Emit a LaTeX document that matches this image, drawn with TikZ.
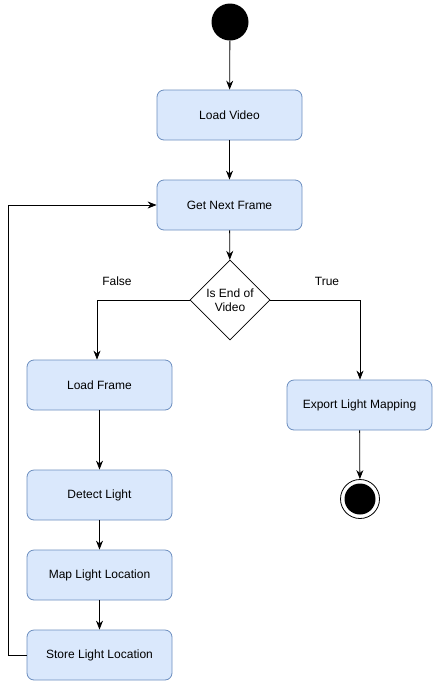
\documentclass[tikz,border=0pt]{standalone}
\usepackage{fontspec}
\setmainfont{Liberation Sans}
\usetikzlibrary{arrows.meta,shapes.geometric}
\definecolor{boxfill}{HTML}{DAE8FC}
\definecolor{boxline}{HTML}{6C8EBF}
\begin{document}
\begin{tikzpicture}[x=1pt,y=-1pt,
  actbox/.style={draw=boxline,fill=boxfill,rounded corners=7pt,minimum width=145pt,minimum height=50pt,inner sep=0pt,font=\fontsize{12pt}{14pt}\selectfont,line width=0.8pt},
  arr/.style={-{Stealth[length=9pt,width=7pt]},line width=0.8pt},
  lbl/.style={font=\fontsize{12pt}{14pt}\selectfont}]
\useasboundingbox (0,0) rectangle (433,681);
\node[circle,fill=black,minimum size=37pt,inner sep=0pt] (start) at (230,22) {};
\node[actbox] (load) at (229.5,115) {Load Video};
\node[actbox] (next) at (229.5,205) {Get Next Frame};
\node[diamond,draw=black,fill=white,minimum width=80pt,minimum height=80pt,inner sep=0pt,aspect=1,line width=0.8pt,align=center,font=\fontsize{12pt}{14pt}\selectfont] (dec) at (230,300) {Is End of\\Video};
\node[actbox] (lframe) at (99.5,385) {Load Frame};
\node[actbox] (detect) at (99.5,495) {Detect Light};
\node[actbox] (map) at (99.5,575) {Map Light Location};
\node[actbox] (store) at (99.5,655) {Store Light Location};
\node[actbox] (export) at (359.5,405) {Export Light Mapping};
\node[circle,draw=black,line width=0.8pt,fill=white,minimum size=39pt,inner sep=0pt] (endo) at (360,499) {};
\node[circle,fill=black,minimum size=31pt,inner sep=0pt] (endi) at (360,499) {};
\coordinate (lc) at (97,300);
\coordinate (rc) at (360,300);
\coordinate (bl) at (8,655);
\coordinate (tl) at (8,205);
\draw[arr] (start) -- (load);
\draw[arr] (load) -- (next);
\draw[arr] (next) -- (dec);
\draw[arr] (dec.west) -- (lc) -- (lframe.north -| lc);
\draw[arr] (dec.east) -- (rc) -- (export.north -| rc);
\draw[arr] (lframe) -- (detect);
\draw[arr] (detect) -- (map);
\draw[arr] (map) -- (store);
\draw[arr] (store.west) -- (bl) -- (tl) -- (next.west);
\draw[arr] (export) -- (endo);
\node[lbl] (f) at (117,281) {False};
\node[lbl] (t) at (327,281) {True};
\end{tikzpicture}
\end{document}
